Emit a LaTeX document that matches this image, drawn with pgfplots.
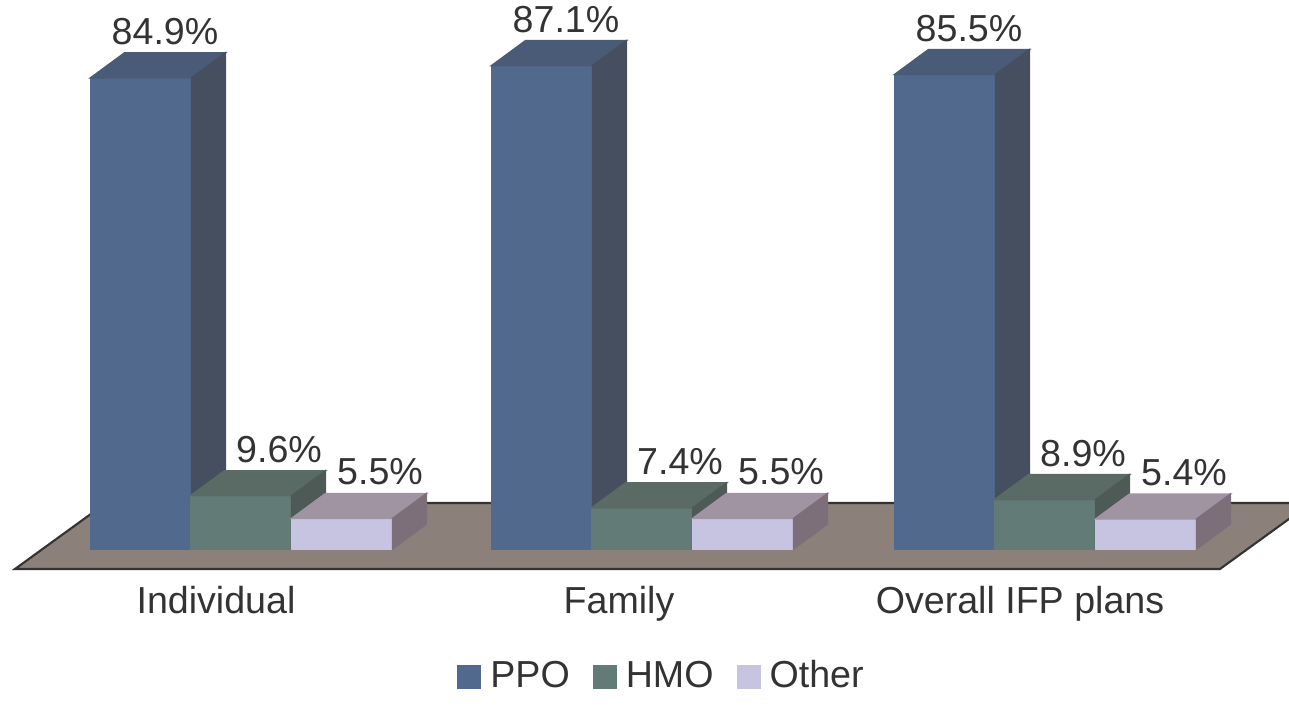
\documentclass[border=0pt]{standalone}
\usepackage{pgfplots}
\pgfplotsset{compat=1.18}
\usepackage{pgfplotstable}
\usepackage{fontspec}
\setmainfont{Liberation Sans}

\definecolor{PPOf}{HTML}{51698D}
\definecolor{PPOt}{HTML}{4A5B77}
\definecolor{PPOs}{HTML}{454F60}
\definecolor{HMOf}{HTML}{637B76}
\definecolor{HMOt}{HTML}{5A6B65}
\definecolor{HMOs}{HTML}{4E5A55}
\definecolor{OTHf}{HTML}{C7C4E1}
\definecolor{OTHt}{HTML}{A093A2}
\definecolor{OTHs}{HTML}{7D6F7A}
\definecolor{floorc}{HTML}{8C807B}
\definecolor{tg}{HTML}{333333}

% x = front-centre of the bar (pixel units), v = value in %
\pgfplotstableread{
x v
141 84.9
542 87.1
945 85.5
}\ppo
\pgfplotstableread{
x v
241 9.6
642 7.4
1045 8.9
}\hmo
\pgfplotstableread{
x v
342 5.5
743 5.5
1146 5.4
}\oth

\pgfdeclareplotmark{empty}{}
\newcommand\bw{10.1mm}
\newcommand\yu{0.555mm}
\newcommand\ddx{3.4mm}
\newcommand\ddy{2.5mm}
\newcommand\lblfont{\fontsize{10.7}{12.5}\selectfont}

\pgfplotsset{
  box3d/.style n args={3}{
    scatter, only marks, mark=empty, forget plot,
    visualization depends on={\thisrow{v} \as \h},
    scatter/@pre marker code/.code={%
      \scope
      \fill[#1] (-\bw/2,-\h*\yu) rectangle (\bw/2,0mm);
      \fill[#2] (-\bw/2,0mm) -- (\bw/2,0mm) -- (\bw/2+\ddx,\ddy) -- (-\bw/2+\ddx,\ddy) -- cycle;
      \fill[#3] (\bw/2,0mm) -- (\bw/2+\ddx,\ddy) -- (\bw/2+\ddx,\ddy-\h*\yu) -- (\bw/2,-\h*\yu) -- cycle;
    },
    scatter/@post marker code/.code={\endscope},
  },
  lbl/.style n args={2}{
    only marks, mark=empty, forget plot,
    nodes near coords={\pgfmathprintnumber[fixed,fixed zerofill,precision=1]{\pgfplotspointmeta}\%},
    every node near coord/.append style={font=\lblfont, text=tg, anchor=base,
      inner sep=0pt, xshift=#1, yshift=#2},
  },
}

\begin{document}
\begin{tikzpicture}
\begin{axis}[
  x=0.1mm, y=0.555mm, scale only axis,
  xmin=0, xmax=1289, ymin=-25.95, ymax=98.92,
  hide axis, clip=true,
  /pgf/number format/assume math mode=true,
  legend image code/.code={\fill[#1] (0mm,-1.2mm) rectangle (2.4mm,1.2mm);},
  legend style={at={(axis cs:664,-23.06)}, anchor=center, draw=none, fill=none,
    legend columns=3, font=\lblfont, text=tg,
    /tikz/every odd column/.append style={column sep=0.2mm},
    /tikz/every even column/.append style={column sep=1.6mm}},
]
% invisible frame to fix the bounding box
\path (rel axis cs:0,0) rectangle (rel axis cs:1,1);
% floor
\addplot[fill=floorc, draw=tg, line width=0.6pt, forget plot]
  coordinates {(15,-3.6) (106,8.29) (1311,8.29) (1220,-3.6)} -- cycle;

\addplot[box3d={PPOf}{PPOt}{PPOs}] table[x=x,y=v] {\ppo};
\addplot[box3d={HMOf}{HMOt}{HMOs}] table[x=x,y=v] {\hmo};
\addplot[box3d={OTHf}{OTHt}{OTHs}] table[x=x,y=v] {\oth};

\addplot[lbl={2.4mm}{3.3mm}] table[x=x,y=v] {\ppo};
\addplot[lbl={3.8mm}{3.3mm}] table[x=x,y=v] {\hmo};
\addplot[lbl={3.8mm}{3.4mm}] table[x=x,y=v] {\oth};

\addlegendimage{fill=PPOf, draw=none}\addlegendentry{PPO}
\addlegendimage{fill=HMOf, draw=none}\addlegendentry{HMO}
\addlegendimage{fill=OTHf, draw=none}\addlegendentry{Other}

\node[font=\lblfont, text=tg, anchor=base] at (axis cs:216,-11.7) {Individual};
\node[font=\lblfont, text=tg, anchor=base] at (axis cs:619,-11.7) {Family};
\node[font=\lblfont, text=tg, anchor=base] at (axis cs:1020,-11.7) {Overall IFP plans};
\end{axis}
\end{tikzpicture}
\end{document}
